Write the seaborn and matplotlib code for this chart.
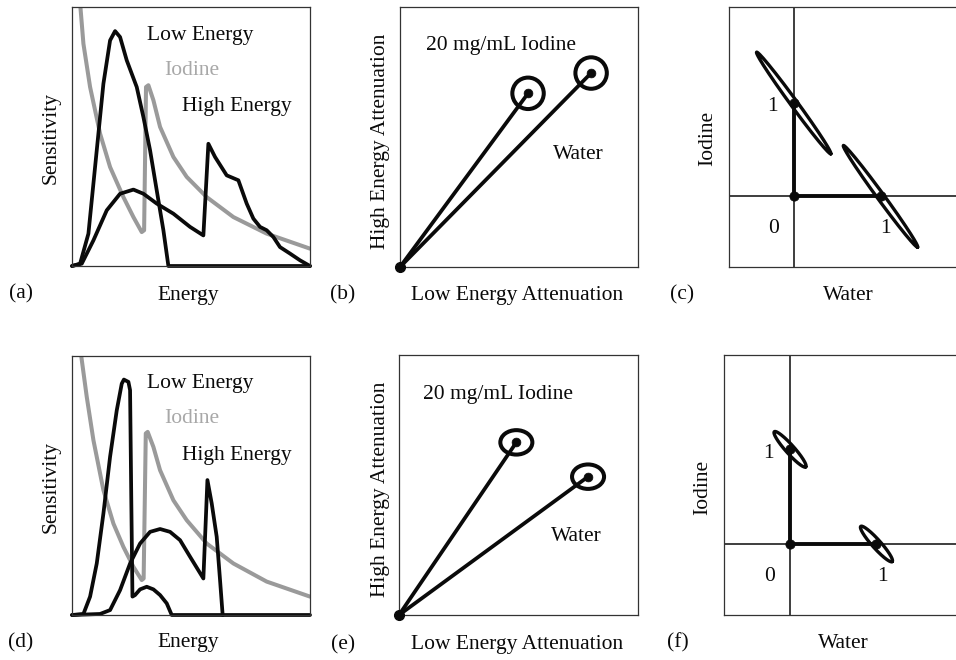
import numpy as np
import pandas as pd
import matplotlib
matplotlib.use("Agg")
import matplotlib.pyplot as plt
import seaborn as sns
from matplotlib.patches import Ellipse

sns.set_theme(style="white")
plt.rcParams["font.family"] = ["Liberation Serif", "DejaVu Serif"]

# ---------------- data ----------------
# (a) spectra / sensitivity, energy axis 0-100, sensitivity 0-100
a_low_x = [0, 3.4, 6.9, 10.4, 13.2, 16.0, 18.1, 20.2, 23.0, 27.2, 30.0, 32.8, 35.6, 38.4, 40.5, 100]
a_low_y = [0, 0.9, 12.5, 44.7, 70.4, 87.1, 90.7, 88.4, 79.4, 69.1, 57.5, 44.7, 29.2, 13.8, 0, 0]
a_high_x = [0, 4.1, 9.0, 14.6, 20.2, 25.8, 30.0, 35.6, 42.6, 49.6, 55.2, 57.3, 60.1, 65.0, 69.9,
            73.4, 76.2, 79.0, 81.8, 84.6, 87.4, 91.6, 95.8, 100]
a_high_y = [0, 0.9, 9.9, 21.5, 27.9, 29.5, 27.9, 24.1, 20.2, 15.1, 11.8, 47.2, 42.1, 35.0, 33.1,
            24.1, 18.3, 15.1, 13.8, 11.2, 7.3, 4.8, 2.2, 0]
a_iod_x = [3.0, 4.8, 7.6, 11.8, 16.0, 21.6, 25.8, 29.3, 30.3, 31.1, 32.1, 34.2, 37.0, 42.6, 48.2,
           56.6, 67.8, 81.8, 100]
a_iod_y = [106, 85.8, 69.1, 51.1, 38.2, 26.6, 18.9, 13.1, 13.8, 69.1, 69.8, 64.0, 53.7, 42.1, 34.4,
           26.6, 18.9, 12.5, 6.7]

# (d)
d_low_x = [0, 4.8, 7.6, 10.4, 13.2, 16.0, 18.8, 20.9, 21.8, 23.7, 24.4, 24.9, 25.4, 26.5, 28.6,
           31.4, 34.2, 37.0, 39.8, 41.9, 100]
d_low_y = [0, 0.4, 7.1, 19.9, 39.2, 61.1, 79.0, 89.3, 90.9, 90.0, 86.8, 45.6, 7.1, 7.7, 9.9,
           10.9, 9.9, 7.7, 4.5, 0, 0]
d_high_x = [0, 11.8, 16.0, 20.2, 24.4, 28.6, 32.8, 37.0, 41.2, 45.4, 49.6, 55.2, 56.9, 58.7,
            60.8, 62.2, 63.3]
d_high_y = [0, 0.4, 1.9, 9.6, 19.9, 27.6, 32.1, 33.2, 32.1, 28.9, 22.5, 14.1, 52.1, 43.1,
            30.2, 13.5, 0]
d_iod_x = [3.0, 6.2, 9.0, 13.2, 17.4, 21.6, 25.8, 29.3, 30.1, 31.0, 31.8, 34.2, 37.0, 42.6, 48.2,
           56.6, 67.8, 81.8, 100]
d_iod_y = [106, 84.2, 67.5, 48.2, 35.3, 26.3, 18.6, 13.5, 14.1, 70.1, 70.7, 64.9, 55.9, 44.3,
           36.6, 27.6, 19.9, 12.9, 7.1]

# (b)/(e) attenuation points: [iodine, water]
b_pts_x = [53.8, 80.3]
b_pts_y = [66.8, 74.6]
b_ring_w = [13.2, 13.2]
b_ring_h = [12.1, 12.1]
e_pts_x = [49.1, 79.1]
e_pts_y = [66.4, 53.2]
e_ring_w = [13.4, 13.4]
e_ring_h = [9.4, 9.4]

# (c)/(f) decomposition: basis points (0,0), (0,1) iodine, (1,0) water
basis_x = [0, 0, 1]
basis_y = [0, 1, 0]
c_lims = dict(x=(-0.746, 1.87), y=(-0.757, 2.029))
f_lims = dict(x=(-0.764, 1.92), y=(-0.75, 1.996))
# ellipse half-axis vectors (data units): major, minor
c_major = (0.428, -0.545)
c_minor = (0.032, 0.0215)
f_major = (0.182, -0.186)
f_minor = (0.037, 0.030)

BLACK = "#0a0a0a"
GRAY = "#9a9a9a"
GRAY_TXT = "#a8a8a8"
FS = 15.5
W, H = 956, 660

fig = plt.figure(figsize=(W / 100, H / 100), dpi=100)


def add_ax(x0, y0, x1, y1):
    ax = fig.add_axes([x0 / W, 1 - y1 / H, (x1 - x0) / W, (y1 - y0) / H])
    ax.set_xticks([])
    ax.set_yticks([])
    for s in ax.spines.values():
        s.set_linewidth(0.9)
        s.set_color("#333333")
    ax.set_facecolor("white")
    return ax


def ftext(x, y, s, **kw):
    fig.text(x / W, 1 - y / H, s, ha="center", va="center", fontsize=FS, color=BLACK, **kw)


def spectra(ax, lx, ly, hx, hy, ix, iy, tpos):
    sns.lineplot(x=ix, y=iy, ax=ax, sort=False, estimator=None, color=GRAY, lw=2.9,
                 solid_joinstyle="round")
    for xs, ys in [(lx, ly), (hx, hy)]:
        sns.lineplot(x=xs, y=ys, ax=ax, sort=False, estimator=None, color=BLACK, lw=2.7,
                     solid_joinstyle="round")
    for line in ax.lines[1:]:
        line.set_clip_on(False)
    ax.set_xlim(0, 100)
    ax.set_ylim(0, 100)
    ax.set_xlabel("")
    ax.set_ylabel("")
    ax.text(*tpos[0], "Low Energy", ha="center", va="center", fontsize=FS, color=BLACK)
    ax.text(*tpos[1], "Iodine", ha="center", va="center", fontsize=FS, color=GRAY_TXT)
    ax.text(*tpos[2], "High Energy", ha="center", va="center", fontsize=FS, color=BLACK)


def attenuation(ax, px, py, rw, rh, tpos):
    for x, y in zip(px, py):
        sns.lineplot(x=[0, x], y=[0, y], ax=ax, sort=False, estimator=None, color=BLACK, lw=2.7)
    for x, y, w, h in zip(px, py, rw, rh):
        ax.add_patch(Ellipse((x, y), w, h, fill=False, ec=BLACK, lw=2.9))
    sns.scatterplot(x=px, y=py, ax=ax, color=BLACK, s=40, edgecolor=BLACK, zorder=5)
    ax.plot([0], [0], "o", color=BLACK, ms=7, clip_on=False, zorder=6)
    for line in ax.lines:
        line.set_clip_on(False)
    ax.set_xlim(0, 100)
    ax.set_ylim(0, 100)
    ax.set_xlabel("")
    ax.set_ylabel("")
    ax.text(*tpos[0], "20 mg/mL Iodine", ha="center", va="center", fontsize=FS, color=BLACK)
    ax.text(*tpos[1], "Water", ha="center", va="center", fontsize=FS, color=BLACK)


def decomposition(ax, lims, major, minor, tpos):
    ax.set_xlim(*lims["x"])
    ax.set_ylim(*lims["y"])
    ax.axvline(0, color=BLACK, lw=1.1)
    ax.axhline(0, color=BLACK, lw=1.1)
    sns.lineplot(x=[basis_x[1], basis_x[0], basis_x[2]], y=[basis_y[1], basis_y[0], basis_y[2]],
                 ax=ax, sort=False, estimator=None, color=BLACK, lw=2.8)
    t = np.linspace(0, 2 * np.pi, 240)
    for cx, cy in zip(basis_x[1:], basis_y[1:]):
        ex = cx + major[0] * np.cos(t) + minor[0] * np.sin(t)
        ey = cy + major[1] * np.cos(t) + minor[1] * np.sin(t)
        ax.plot(ex, ey, color=BLACK, lw=2.4)
    sns.scatterplot(x=basis_x, y=basis_y, ax=ax, color=BLACK, s=45, edgecolor=BLACK, zorder=5)
    ax.spines["right"].set_visible(False)
    ax.set_xlabel("")
    ax.set_ylabel("")
    ax.text(*tpos[0], "1", ha="center", va="center", fontsize=FS, color=BLACK)
    ax.text(*tpos[1], "0", ha="center", va="center", fontsize=FS, color=BLACK)
    ax.text(*tpos[2], "1", ha="center", va="center", fontsize=FS, color=BLACK)


# ---------------- panels ----------------
ax_a = add_ax(72, 7, 310, 266)
spectra(ax_a, a_low_x, a_low_y, a_high_x, a_high_y, a_iod_x, a_iod_y,
        [(53.8, 89.1), (50.3, 75.5), (69.2, 61.6)])
ax_d = add_ax(72, 356, 310, 615)
spectra(ax_d, d_low_x, d_low_y, d_high_x, d_high_y, d_iod_x, d_iod_y,
        [(53.8, 89.3), (50.3, 75.8), (69.2, 61.7)])

ax_b = add_ax(400, 7, 638, 267)
attenuation(ax_b, b_pts_x, b_pts_y, b_ring_w, b_ring_h, [(42.3, 85.1), (75.0, 43.1)])
ax_e = add_ax(399, 355, 638, 615)
attenuation(ax_e, e_pts_x, e_pts_y, e_ring_w, e_ring_h, [(41.4, 85.0), (74.2, 30.1)])

ax_c = add_ax(729, 7, 956, 267)
decomposition(ax_c, c_lims, c_major, c_minor, [(-0.246, 0.964), (-0.238, -0.346), (1.062, -0.346)])
ax_f = add_ax(724, 355, 956, 615)
decomposition(ax_f, f_lims, f_major, f_minor, [(-0.252, 0.951), (-0.240, -0.345), (1.066, -0.345)])

# ---------------- labels ----------------
ftext(21, 294, "(a)")
ftext(188, 295, "Energy")
ftext(51, 138, "Sensitivity", rotation=90)
ftext(343, 295, "(b)")
ftext(517, 295, "Low Energy Attenuation")
ftext(381, 141, "High Energy Attenuation", rotation=90)
ftext(682, 295, "(c)")
ftext(848, 295, "Water")
ftext(708, 138, "Iodine", rotation=90)

ftext(21, 643, "(d)")
ftext(188, 643, "Energy")
ftext(51, 487, "Sensitivity", rotation=90)
ftext(343, 645, "(e)")
ftext(517, 645, "Low Energy Attenuation")
ftext(380, 489, "High Energy Attenuation", rotation=90)
ftext(678, 643, "(f)")
ftext(843, 643, "Water")
ftext(703, 487, "Iodine", rotation=90)

fig.savefig("out.png", dpi=100, facecolor="white")
